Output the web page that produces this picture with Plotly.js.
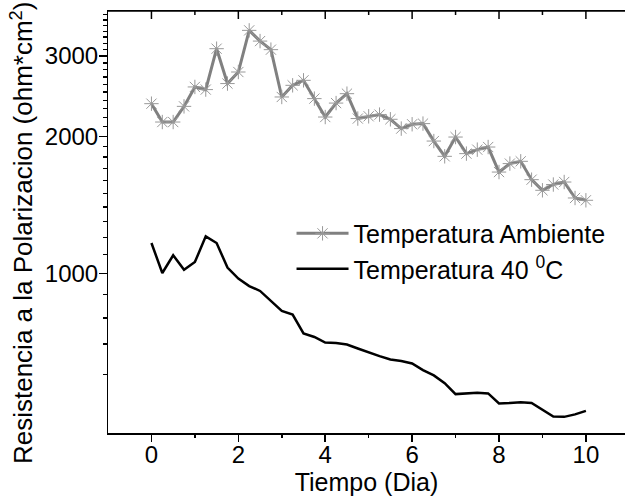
<!DOCTYPE html>
<html>
<head>
<meta charset="utf-8">
<script src="https://cdn.plot.ly/plotly-3.0.1.min.js"></script>
<style>html,body{margin:0;padding:0;background:#fff;}#chart{width:625px;height:498px;}</style>
</head>
<body>
<div id="chart"></div>
<script>
// Time in days (0 to 10, every 0.25 day)
const tiempo = [0,0.25,0.5,0.75,1,1.25,1.5,1.75,2,2.25,2.5,2.75,3,3.25,3.5,3.75,4,4.25,4.5,4.75,5,5.25,5.5,5.75,6,6.25,6.5,6.75,7,7.25,7.5,7.75,8,8.25,8.5,8.75,9,9.25,9.5,9.75,10];

// Polarization resistance, ambient temperature (ohm*cm^2)
const rpAmbiente = [2359,2150,2150,2327,2567,2533,3114,2611,2768,3416,3236,3099,2440,2588,2654,2420,2205,2366,2481,2188,2213,2232,2180,2080,2126,2133,1953,1808,1993,1833,1870,1895,1670,1743,1763,1607,1523,1568,1588,1465,1448];

// Polarization resistance, 40 C (ohm*cm^2)
const rp40 = [1167,1003,1097,1020,1060,1207,1167,1031,975,939,916,870,828,813,739,726,706,704,699,685,671,659,648,643,635,614,598,575,544,547,548,546,519,520,522,520,503,486,485,491,500];

const nombres = ["Temperatura Ambiente", "Temperatura 40 <sup>0</sup>C"];
const xTicks = [0,2,4,6,8,10];
const xMinorTicks = [1,3,5,7,9];
const xTickLabels = ["0","2","4","6","8","10"];
const yTicks = [1000,2000,3000];
const yTickLabels = ["1000","2000","3000"];
const yMinorTicks = [600,700,800,900,1100,1200,1300,1400,1500,1600,1700,1800,1900,2100,2200,2300,2400,2500,2600,2700,2800,2900,3100,3200,3300,3400,3500,3600,3700];
const xTitle = "Tiempo (Dia)";
const yTitle = "Resistencia a la Polarizacion (ohm*cm<sup>2</sup>)&nbsp;&nbsp;&nbsp;";

const FONT = "Liberation Sans, Arial, sans-serif";
const xRange = [-1, 10.9];
const yRange = [Math.log10(447), Math.log10(3767)];

// inward tick marks on the top frame edge, one short vertical segment per tick value
function frameTickShapes(vals, len) {
  return vals.map(v => ({
    type: "line", layer: "above", xref: "x", yref: "paper", ysizemode: "pixel", yanchor: 1,
    x0: v, x1: v, y0: 0, y1: -len,
    line: {color: "#000", width: 1.5}
  }));
}

const traces = [
  {
    x: tiempo, y: rpAmbiente, name: nombres[0],
    type: "scatter", mode: "lines+markers",
    line: {color: "#808080", width: 3},
    marker: {symbol: "asterisk-open", size: 12, color: "#999999", line: {color: "#999999", width: 1}}
  },
  {
    x: tiempo, y: rp40, name: nombres[1],
    type: "scatter", mode: "lines",
    line: {color: "#000000", width: 2.5}
  }
];

const axisCommon = {
  showgrid: false, zeroline: false, showline: true, mirror: true,
  linecolor: "#000", linewidth: 1.5, tickcolor: "#000", tickwidth: 1.5,
  tickfont: {family: FONT, size: 24, color: "#000"}
};

const layout = {
  width: 625, height: 498,
  margin: {l: 108, r: 0, t: 11, b: 65},
  paper_bgcolor: "#fff", plot_bgcolor: "#fff",
  font: {family: FONT, color: "#000"},
  showlegend: true,
  legend: {
    x: 0.355, y: 0.527, xanchor: "left", yanchor: "top",
    font: {family: FONT, size: 25, color: "#000"},
    bgcolor: "rgba(0,0,0,0)", itemwidth: 52, tracegroupgap: 0
  },
  shapes: [
    {type: "line", layer: "above", xref: "paper", yref: "paper", x0: 0, x1: 1, y0: 1, y1: 1, line: {color: "#000", width: 1.5}}
  ].concat(frameTickShapes(xTicks, 8), frameTickShapes(xMinorTicks, 4)),
  xaxis: Object.assign({}, axisCommon, {
    range: xRange, ticks: "outside", ticklen: 7, ticklabelstandoff: -7,
    tickmode: "array", tickvals: xTicks, ticktext: xTickLabels,
    minor: {tickmode: "array", tickvals: xMinorTicks, ticks: "outside", ticklen: 3.5, tickwidth: 1.5, tickcolor: "#000"},
    title: {text: xTitle, font: {family: FONT, size: 25, color: "#000"}, standoff: 2}
  }),
  yaxis: Object.assign({}, axisCommon, {
    type: "log", range: yRange, ticks: "outside", ticklen: 7.5, ticklabelstandoff: -4,
    tickmode: "array", tickvals: yTicks, ticktext: yTickLabels,
    minor: {tickmode: "array", tickvals: yMinorTicks, ticks: "outside", ticklen: 4, tickwidth: 1.5, tickcolor: "#000"},
    title: {text: yTitle, font: {family: FONT, size: 26, color: "#000"}, standoff: 4}
  })
};

Plotly.newPlot("chart", traces, layout, {displayModeBar: false, staticPlot: true});
</script>
</body>
</html>
